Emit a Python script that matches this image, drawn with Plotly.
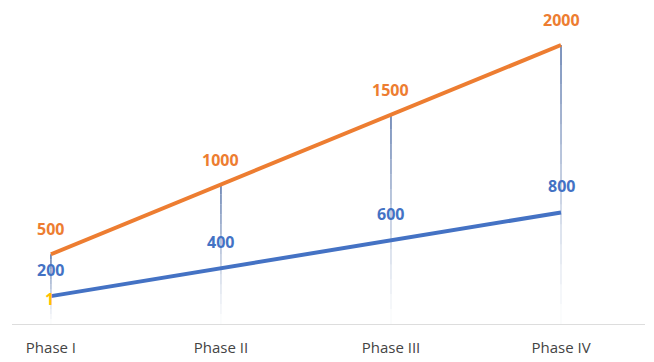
import plotly.graph_objects as go

categories = ["Phase I", "Phase II", "Phase III", "Phase IV"]
orange_vals = [500, 1000, 1500, 2000]
blue_vals = [200, 400, 600, 800]
extra_label = "1"

ORANGE = "#ED7D31"
BLUE = "#4472C4"
GOLD = "#FFC000"
FONT = "Open Sans"

xs = list(range(len(categories)))
fig = go.Figure()

# fading drop lines from the orange points towards the axis
N = 14
for k in range(N):
    px, py = [], []
    for i, v in enumerate(orange_vals):
        top = v * (1 - k / N)
        bot = v * (1 - (k + 1) / N)
        px += [i, i, None]
        py += [top, bot, None]
    alpha = 0.9 * (1 - k / N) ** 1.3
    fig.add_trace(go.Scatter(x=px, y=py, mode="lines",
                             line=dict(color=f"rgba(68,100,160,{alpha:.3f})", width=1.5),
                             hoverinfo="skip", showlegend=False))

fig.add_trace(go.Scatter(x=xs, y=blue_vals, mode="lines",
                         line=dict(color=BLUE, width=4), showlegend=False))
fig.add_trace(go.Scatter(x=xs, y=orange_vals, mode="lines",
                         line=dict(color=ORANGE, width=4), showlegend=False))

for i in xs:
    fig.add_annotation(x=i, y=orange_vals[i], text=f"<b>{orange_vals[i]}</b>",
                       showarrow=False, yshift=25,
                       font=dict(family=FONT, size=16, color=ORANGE))
    fig.add_annotation(x=i, y=blue_vals[i], text=f"<b>{blue_vals[i]}</b>",
                       showarrow=False, yshift=26,
                       font=dict(family=FONT, size=16, color=BLUE))

fig.add_annotation(x=0, y=blue_vals[0], text=f"<b>{extra_label}</b>",
                   showarrow=False, yshift=-3, xshift=-1,
                   font=dict(family=FONT, size=16, color=GOLD))

fig.update_layout(
    width=654, height=362,
    margin=dict(l=12, r=9, t=10, b=38),
    paper_bgcolor="white", plot_bgcolor="white",
    xaxis=dict(range=[-0.229, 3.494], tickmode="array", tickvals=xs,
               ticktext=categories, showgrid=False, zeroline=False,
               showline=True, linecolor="#DDDDDD", linewidth=1,
               ticks="", ticklabelstandoff=10, automargin=False,
               tickfont=dict(family=FONT, size=15, color="#444444")),
    yaxis=dict(range=[0, 2251], visible=False, showgrid=False, zeroline=False,
               automargin=False),
)

fig.write_html("out.html")
